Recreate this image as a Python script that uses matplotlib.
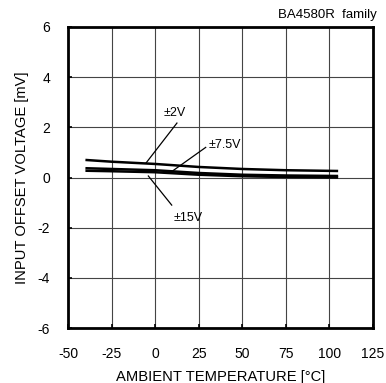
import matplotlib
matplotlib.use("Agg")
import matplotlib.pyplot as plt

plt.rcParams['font.family'] = ['Liberation Sans', 'DejaVu Sans']
plt.rcParams['axes.unicode_minus'] = False

temps = [-40, -25, 0, 25, 50, 75, 105]
v2 = [0.70, 0.63, 0.54, 0.42, 0.34, 0.29, 0.26]
v75 = [0.37, 0.34, 0.29, 0.18, 0.11, 0.08, 0.06]
v15 = [0.27, 0.25, 0.21, 0.11, 0.05, 0.02, 0.00]

xticks = [-50, -25, 0, 25, 50, 75, 100, 125]
yticks = [-6, -4, -2, 0, 2, 4, 6]

fig = plt.figure(figsize=(3.86, 3.83), dpi=100)
ax = fig.add_axes([68 / 386, 55 / 383, 305 / 386, 301 / 383])

for vals in (v2, v75, v15):
    ax.plot(temps, vals, color="black", lw=1.8, solid_capstyle="butt")

ax.set_xlim(-50, 125)
ax.set_ylim(-6, 6)
ax.set_xticks(xticks)
ax.set_yticks(yticks)
ax.grid(True, color="#444444", lw=0.8)
ax.tick_params(direction="in", length=3, width=1.2, labelsize=10)
ax.tick_params(axis="x", pad=14)
ax.tick_params(axis="y", pad=13)
for s in ax.spines.values():
    s.set_linewidth(2)

# leader lines and labels
ax.plot([12.5, -5.2], [2.17, 0.58], color="black", lw=0.9)
ax.text(11.4, 2.57, "±2V", ha="center", va="center", fontsize=9)
ax.plot([29, 10], [1.2, 0.26], color="black", lw=0.9)
ax.text(40, 1.3, "±7.5V", ha="center", va="center", fontsize=9)
ax.plot([-3.9, 9.5], [0.06, -1.1], color="black", lw=0.9)
ax.text(18.8, -1.6, "±15V", ha="center", va="center", fontsize=9)

ax.set_xlabel("AMBIENT TEMPERATURE [\u00b0C]", fontsize=10.6, labelpad=6)
ax.set_ylabel("INPUT OFFSET VOLTAGE [mV]", fontsize=10.6, labelpad=6)
fig.text(377 / 386, 1 - 15 / 383, "BA4580R  family", ha="right", va="center", fontsize=9.5)

fig.savefig("out.png", dpi=100)
